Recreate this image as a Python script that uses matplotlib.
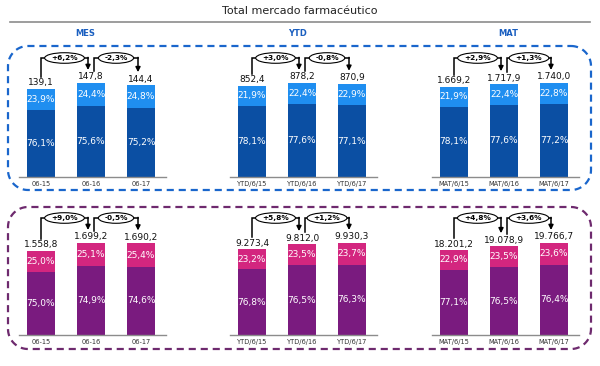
import matplotlib
matplotlib.use("Agg")
import matplotlib.pyplot as plt
import numpy as np

# data
panel_names = ["MES", "YTD", "MAT"]
cats_mes = ["06-15", "06-16", "06-17"]
cats_ytd = ["YTD/6/15", "YTD/6/16", "YTD/6/17"]
cats_mat = ["MAT/6/15", "MAT/6/16", "MAT/6/17"]

# top row (blue)
top_totals_mes = [139.1, 147.8, 144.4]
top_totals_ytd = [852.4, 878.2, 870.9]
top_totals_mat = [1669.2, 1717.9, 1740.0]
top_labels_mes = ["139,1", "147,8", "144,4"]
top_labels_ytd = ["852,4", "878,2", "870,9"]
top_labels_mat = ["1.669,2", "1.717,9", "1.740,0"]
top_light_mes = [23.9, 24.4, 24.8]
top_light_ytd = [21.9, 22.4, 22.9]
top_light_mat = [21.9, 22.4, 22.8]
top_dark_mes = [76.1, 75.6, 75.2]
top_dark_ytd = [78.1, 77.6, 77.1]
top_dark_mat = [78.1, 77.6, 77.2]
top_growth_mes = ["+6,2%", "-2,3%"]
top_growth_ytd = ["+3,0%", "-0,8%"]
top_growth_mat = ["+2,9%", "+1,3%"]

# bottom row (purple)
bot_totals_mes = [1558.8, 1699.2, 1690.2]
bot_totals_ytd = [9273.4, 9812.0, 9930.3]
bot_totals_mat = [18201.2, 19078.9, 19766.7]
bot_labels_mes = ["1.558,8", "1.699,2", "1.690,2"]
bot_labels_ytd = ["9.273,4", "9.812,0", "9.930,3"]
bot_labels_mat = ["18.201,2", "19.078,9", "19.766,7"]
bot_light_mes = [25.0, 25.1, 25.4]
bot_light_ytd = [23.2, 23.5, 23.7]
bot_light_mat = [22.9, 23.5, 23.6]
bot_dark_mes = [75.0, 74.9, 74.6]
bot_dark_ytd = [76.8, 76.5, 76.3]
bot_dark_mat = [77.1, 76.5, 76.4]
bot_growth_mes = ["+9,0%", "-0,5%"]
bot_growth_ytd = ["+5,8%", "+1,2%"]
bot_growth_mat = ["+4,8%", "+3,6%"]

W, H = 600, 366
fig = plt.figure(figsize=(6, 3.66), dpi=100)

# overlay axes in pixel coords for title, line, boxes
over = fig.add_axes([0, 0, 1, 1])
over.set_xlim(0, W)
over.set_ylim(H, 0)
over.axis("off")
over.text(300, 11, "Total mercado farmac\u00e9utico", ha="center", va="center",
          fontsize=8, color="#222222")
over.plot([10, 590], [22, 22], color="#8c8c8c", lw=1.2)
for x, name in zip([85, 298, 508], panel_names):
    over.text(x, 33, name, ha="center", va="center", fontsize=6,
              fontweight="bold", color="#1a5fc0")


def rounded_box(x0, y0, x1, y1, r, color):
    # corner arcs joined by straight edges (pixel coords, y down)
    pts = []
    corners = [(x1 - r, y0 + r, -90, 0), (x1 - r, y1 - r, 0, 90),
               (x0 + r, y1 - r, 90, 180), (x0 + r, y0 + r, 180, 270)]
    for cx, cy, a0, a1 in corners:
        t = np.radians(np.linspace(a0, a1, 20))
        pts += list(zip(cx + r * np.cos(t), cy + r * np.sin(t)))
    pts.append(pts[0])
    xs, ys = zip(*pts)
    over.plot(xs, ys, color=color, lw=1.6, linestyle=(0, (3.2, 2.2)))


rounded_box(8, 46, 591, 190, 20, "#1a66cc")
rounded_box(8, 207, 591, 349, 20, "#6e2a6e")

XMIN, XMAX = -0.45, 2.5
STEP = 50


def draw_panel(c0, base_px, top_px, maxbar_px, bracket_px,
               totals, labels, light, dark, growth, cats, c_dark, c_light):
    ax_h = base_px - top_px
    ax_w = (XMAX - XMIN) * STEP
    left = c0 + XMIN * STEP
    ax = fig.add_axes([left / W, (H - base_px) / H, ax_w / W, ax_h / H])
    ax.patch.set_alpha(0)
    ymax = max(totals) * ax_h / maxbar_px
    ax.set_xlim(XMIN, XMAX)
    ax.set_ylim(0, ymax)
    px = ymax / ax_h  # data units per pixel

    x = list(range(len(totals)))
    dark_h = [t * d / 100 for t, d in zip(totals, dark)]
    light_h = [t * l / 100 for t, l in zip(totals, light)]
    ax.bar(x, dark_h, width=0.56, color=c_dark)
    ax.bar(x, light_h, width=0.56, bottom=dark_h, color=c_light)

    for i in x:
        ax.text(i, dark_h[i] / 2, f"{dark[i]:.1f}%".replace(".", ","),
                ha="center", va="center", color="white", fontsize=6.5)
        ax.text(i, dark_h[i] + light_h[i] / 2,
                f"{light[i]:.1f}%".replace(".", ","),
                ha="center", va="center", color="white", fontsize=6.5)
        ax.text(i, totals[i] + 6 * px, labels[i], ha="center", va="center",
                fontsize=6.5, color="#111111")

    ytop = bracket_px * px
    for i, g in enumerate(growth):
        x0 = i + (0.06 if i > 0 else 0)
        x1 = i + 1 - 0.06
        y0 = totals[i] + 12 * px
        y1 = totals[i + 1] + 13 * px
        ax.plot([x0, x0, x1], [y0, ytop, ytop], color="black", lw=1.1,
                clip_on=False, solid_joinstyle="miter")
        ax.annotate("", xy=(x1, y1), xytext=(x1, ytop + 0.6 * px),
                    arrowprops=dict(arrowstyle="-|>", color="black", lw=1.1,
                                    mutation_scale=7, shrinkA=0, shrinkB=0),
                    annotation_clip=False)
        ax.text((x0 + x1) / 2, ytop, g, ha="center", va="center",
                fontsize=5.3, fontweight="bold",
                bbox=dict(boxstyle="ellipse,pad=0.1", fc="white",
                          ec="black", lw=0.8))

    for s in ["top", "right", "left"]:
        ax.spines[s].set_visible(False)
    ax.spines["bottom"].set_color("#8c8c8c")
    ax.spines["bottom"].set_linewidth(1.0)
    ax.set_yticks([])
    ax.set_xticks(x)
    ax.set_xticklabels(cats, fontsize=4.8, color="#333333")
    ax.tick_params(axis="x", length=0, pad=3)


blue_dark, blue_light = "#0b4fa3", "#1f8ef0"
purp_dark, purp_light = "#7a1b7f", "#d3267f"

draw_panel(41, 177, 46, 94, 119, top_totals_mes, top_labels_mes,
           top_light_mes, top_dark_mes, top_growth_mes, cats_mes,
           blue_dark, blue_light)
draw_panel(252, 177, 46, 94, 119, top_totals_ytd, top_labels_ytd,
           top_light_ytd, top_dark_ytd, top_growth_ytd, cats_ytd,
           blue_dark, blue_light)
draw_panel(454, 177, 46, 94, 119, top_totals_mat, top_labels_mat,
           top_light_mat, top_dark_mat, top_growth_mat, cats_mat,
           blue_dark, blue_light)

draw_panel(41, 335, 207, 92, 117, bot_totals_mes, bot_labels_mes,
           bot_light_mes, bot_dark_mes, bot_growth_mes, cats_mes,
           purp_dark, purp_light)
draw_panel(252, 335, 207, 92, 117, bot_totals_ytd, bot_labels_ytd,
           bot_light_ytd, bot_dark_ytd, bot_growth_ytd, cats_ytd,
           purp_dark, purp_light)
draw_panel(454, 335, 207, 92, 117, bot_totals_mat, bot_labels_mat,
           bot_light_mat, bot_dark_mat, bot_growth_mat, cats_mat,
           purp_dark, purp_light)

fig.savefig("out.png", dpi=100)
